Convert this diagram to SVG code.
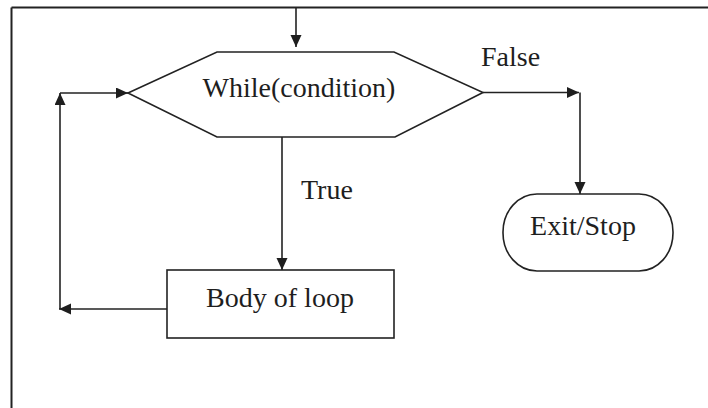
<svg xmlns="http://www.w3.org/2000/svg" width="708" height="408" viewBox="0 0 708 408">
  <style>
    .shape { fill: #ffffff; stroke: #222222; stroke-width: 1.6; }
    .wire { fill: none; stroke: #222222; stroke-width: 1.6; }
    .label { font-family: "Liberation Serif", "Times New Roman", serif; font-size: 28px; fill: #1e1e1e; }
  </style>
  <defs>
    <marker id="arrow" markerUnits="userSpaceOnUse" markerWidth="14" markerHeight="12" refX="12" refY="5.5" orient="auto">
      <path d="M0,0 L12,5.5 L0,11 Z" fill="#1e1e1e"/>
    </marker>
  </defs>

  <rect width="708" height="408" fill="#ffffff"/>

  <!-- frame: top and left edges only -->
  <g id="frame" class="wire">
    <path d="M11.5,7.5 L708,7.5" stroke-width="2"/>
    <path d="M11.5,7.5 L11.5,408" stroke-width="2"/>
  </g>

  <!-- connectors -->
  <g id="connectors" class="wire">
    <path d="M296,8 L296,47" marker-end="url(#arrow)"/>
    <path d="M282,137 L282,270" marker-end="url(#arrow)"/>
    <path d="M483,92.5 L579,92.5" marker-end="url(#arrow)"/>
    <path d="M580,92.5 L580,194" marker-end="url(#arrow)"/>
    <path d="M167,309 L59,309" marker-end="url(#arrow)"/>
    <path d="M60,309 L60,93" marker-end="url(#arrow)"/>
    <path d="M60,93 L128,93" marker-end="url(#arrow)"/>
  </g>

  <!-- decision: loop condition -->
  <g id="condition">
    <polygon class="shape" points="128,93 217,52 394,52 483,92.5 395,137 217,137"/>
    <text class="label" x="299" y="97" text-anchor="middle">While(condition)</text>
  </g>

  <!-- process: loop body -->
  <g id="body">
    <rect class="shape" x="167" y="270" width="227" height="68"/>
    <text class="label" x="280" y="307" text-anchor="middle">Body of loop</text>
  </g>

  <!-- terminal: exit -->
  <g id="exit">
    <rect class="shape" x="503" y="194" width="170" height="77" rx="34" ry="38"/>
    <text class="label" x="583" y="235" text-anchor="middle">Exit/Stop</text>
  </g>

  <!-- branch labels -->
  <g id="branch-labels">
    <text class="label" x="301" y="199">True</text>
    <text class="label" x="481" y="66">False</text>
  </g>
</svg>
